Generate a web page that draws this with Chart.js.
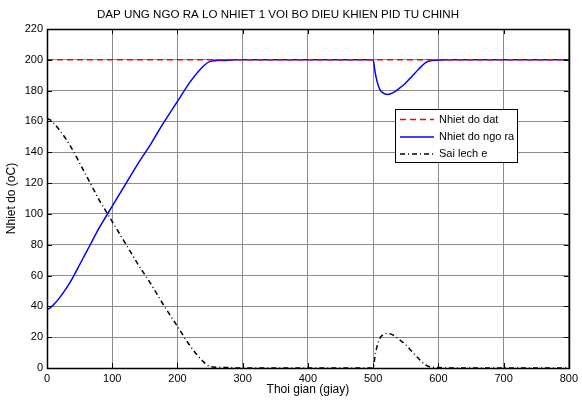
<!DOCTYPE html>
<html>
<head>
<meta charset="utf-8">
<script src="https://cdn.jsdelivr.net/npm/chart.js@4/dist/chart.umd.min.js"></script>
<style>
html,body{margin:0;padding:0;background:#fff;}
#wrap{width:582px;height:405px;position:relative;}
</style>
</head>
<body>
<div id="wrap"><canvas id="c" width="582" height="405"></canvas></div>
<script>
// ---- Data ----
const chartTitle = "DAP UNG NGO RA LO NHIET 1 VOI BO DIEU KHIEN PID TU CHINH";
const xTitle = "Thoi gian (giay)";
const yTitle = "Nhiet do (oC)";
const seriesNames = ["Nhiet do dat", "Nhiet do ngo ra", "Sai lech e"];

const setTime  = [0, 800];
const setValue = [200, 200];

const outTime  = [0, 5, 10, 20, 30, 40, 50, 60, 70, 80, 90, 100, 120, 140, 160, 180, 200, 220, 240, 250, 260, 280, 290, 400, 500, 503, 506, 510, 515, 522, 530, 540, 550, 560, 570, 580, 590, 600, 615, 700, 800];
const outValue = [38, 39, 41, 46, 52, 59, 67, 75, 83, 91, 98, 105, 119, 133, 146, 160, 173, 186, 196, 199, 199.5, 199.7, 200, 200, 200, 192, 186, 181, 178.5, 177.5, 178.5, 181.5, 185, 189.5, 194, 198, 199.5, 199.7, 200, 200, 200];

const errTime  = [0, 5, 10, 20, 30, 40, 50, 60, 70, 80, 90, 100, 120, 140, 160, 180, 200, 220, 240, 250, 260, 280, 290, 400, 500, 503, 506, 510, 515, 522, 530, 540, 550, 560, 570, 580, 590, 600, 615, 700, 800];
const errValue = [162, 161, 159, 154, 148, 141, 133, 125, 117, 109, 102, 95, 81, 67, 54, 40, 27, 14, 4, 1, 0.5, 0.3, 0, 0, 0, 8, 14, 19, 21.5, 22.5, 21.5, 18.5, 15, 10.5, 6, 2, 0.5, 0.3, 0, 0, 0];

const xTicks = [0, 100, 200, 300, 400, 500, 600, 700, 800];
const yTicks = [0, 20, 40, 60, 80, 100, 120, 140, 160, 180, 200, 220];

function pts(xs, ys){ return xs.map((x,i)=>({x:x, y:ys[i]})); }

const FONT = "Arial, 'Liberation Sans', sans-serif";

// Plugin: title, box border, inward ticks, legend inside plot
const framePlugin = {
  id: 'frame',
  afterDatasetsDraw(chart){
    const ctx = chart.ctx, a = chart.chartArea;
    const xs = chart.scales.x, ys = chart.scales.y;
    ctx.save();
    // title
    ctx.fillStyle = '#000';
    ctx.font = '11.6px ' + FONT;
    ctx.textAlign = 'center';
    ctx.textBaseline = 'middle';
    ctx.fillText(chartTitle, 278, 14.5);

    ctx.strokeStyle = '#000';
    ctx.lineWidth = 1;
    ctx.beginPath();
    xTicks.forEach(v=>{
      const px = Math.round(xs.getPixelForValue(v))+0.5;
      ctx.moveTo(px, a.bottom); ctx.lineTo(px, a.bottom-5);
      ctx.moveTo(px, a.top); ctx.lineTo(px, a.top+5);
    });
    yTicks.forEach(v=>{
      const py = Math.round(ys.getPixelForValue(v))+0.5;
      ctx.moveTo(a.left, py); ctx.lineTo(a.left+5, py);
      ctx.moveTo(a.right, py); ctx.lineTo(a.right-5, py);
    });
    ctx.stroke();
    ctx.lineWidth = 1.5;
    ctx.strokeRect(Math.round(a.left)+0.5, Math.round(a.top)+0.5, Math.round(a.right-a.left), Math.round(a.bottom-a.top));

    // legend
    const lx = 395.5, ly = 109.5, lw = 122, lh = 53;
    ctx.fillStyle = '#fff';
    ctx.fillRect(lx, ly, lw, lh);
    ctx.lineWidth = 1;
    ctx.strokeStyle = '#000';
    ctx.strokeRect(lx, ly, lw, lh);
    const rows = [119.5, 137, 154];
    chart.data.datasets.forEach((ds,i)=>{
      ctx.save();
      ctx.strokeStyle = ds.borderColor;
      ctx.lineWidth = ds.borderWidth;
      ctx.setLineDash(ds.borderDash || []);
      ctx.beginPath();
      ctx.moveTo(400, rows[i]); ctx.lineTo(434, rows[i]);
      ctx.stroke();
      ctx.restore();
      ctx.fillStyle = '#000';
      ctx.font = '11px ' + FONT;
      ctx.textBaseline = 'middle';
      ctx.textAlign = 'left';
      ctx.fillText(ds.label, 439, rows[i]);
    });
    ctx.restore();
  }
};

new Chart(document.getElementById('c'), {
  type: 'line',
  data: {
    datasets: [
      { label: seriesNames[0], data: pts(setTime, setValue), borderColor: '#ff0000', borderWidth: 1.5, borderDash: [6,4], pointRadius: 0, tension: 0, order: 1 },
      { label: seriesNames[1], data: pts(outTime, outValue), borderColor: '#0000ff', borderWidth: 1.5, pointRadius: 0, cubicInterpolationMode: 'monotone', order: 2 },
      { label: seriesNames[2], data: pts(errTime, errValue), borderColor: '#000000', borderWidth: 1.5, borderDash: [5,3,1,3], pointRadius: 0, cubicInterpolationMode: 'monotone', order: 3 }
    ]
  },
  options: {
    responsive: false,
    animation: false,
    devicePixelRatio: 1,
    layout: { padding: { left: 0, right: 10, top: 29, bottom: 0 } },
    plugins: {
      legend: { display: false },
      tooltip: { enabled: false },
      title: { display: false }
    },
    scales: {
      x: {
        type: 'linear',
        min: 0, max: 800,
        afterBuildTicks: (s)=>{ s.ticks = xTicks.map(v=>({value:v})); },
        afterFit: (s)=>{ s.height = 37; },
        ticks: { color: '#000', font: { family: FONT, size: 11 }, padding: 4, maxRotation: 0, autoSkip: false },
        grid: { color: '#8c8c8c', lineWidth: 1, drawTicks: false },
        border: { display: false },
        title: { display: true, text: xTitle, color: '#000', font: { family: FONT, size: 12 }, padding: { top: 0, bottom: 8 } }
      },
      y: {
        type: 'linear',
        min: 0, max: 220,
        afterBuildTicks: (s)=>{ s.ticks = yTicks.map(v=>({value:v})); },
        afterFit: (s)=>{ s.width = 47; },
        ticks: { color: '#000', font: { family: FONT, size: 11 }, padding: 4, autoSkip: false },
        grid: { color: '#8c8c8c', lineWidth: 1, drawTicks: false },
        border: { display: false },
        title: { display: true, text: yTitle, color: '#000', font: { family: FONT, size: 12 }, padding: { top: 4, bottom: 4 } }
      }
    }
  },
  plugins: [framePlugin]
});
</script>
</body>
</html>
